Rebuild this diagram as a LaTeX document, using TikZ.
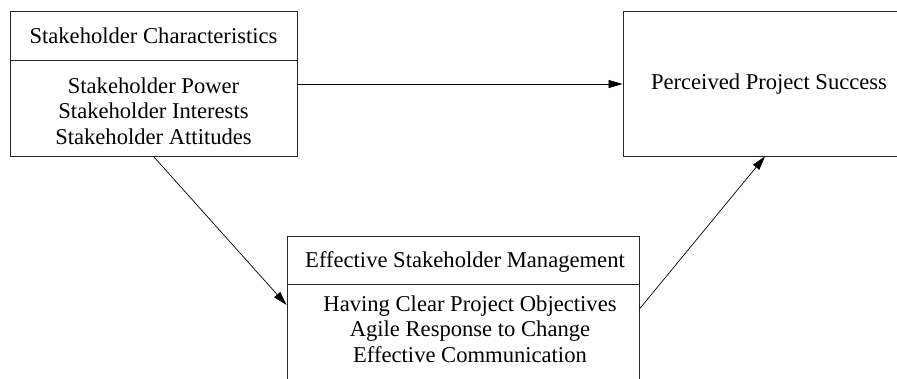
\documentclass[tikz,border=0pt]{standalone}
\usepackage{fontspec}
\setmainfont{Liberation Serif}
\usetikzlibrary{arrows.meta}
\begin{document}
\begin{tikzpicture}[x=1pt,y=-1pt,
  part/.style={draw=black!85,line width=0.9pt,inner sep=0pt},
  lbl/.style={inner sep=0pt,align=center,font=\fontsize{22.6}{25.6}\selectfont},
  arr/.style={line width=0.7pt,-{Triangle[length=14pt,width=8pt]}}]
\useasboundingbox (0,0) rectangle (897,378);
% boxes
\node[part,minimum width=287pt,minimum height=49pt] (ltop) at (153.5,35.5) {};
\node[part,minimum width=287pt,minimum height=96pt] (lbot) at (153.5,108) {};
\node[part,minimum width=292pt,minimum height=145pt] (succ) at (769,83.5) {};
\node[part,minimum width=352pt,minimum height=48pt] (mtop) at (463,260) {};
\node[part,minimum width=352pt,minimum height=108pt] (mbot) at (463,338) {};
% texts
\node[lbl] (ltoptxt) at (153.5,36) {Stakeholder Characteristics};
\node[lbl] (lbottxt) at (153.5,111) {Stakeholder Power\\Stakeholder Interests\\Stakeholder Attitudes};
\node[lbl] (succtxt) at (769,84) {Perceived Project Success};
\node[lbl] (mtoptxt) at (465,262) {Effective Stakeholder Management};
\node[lbl] (mbottxt) at (470,329) {Having Clear Project Objectives\\Agile Response to Change\\Effective Communication};
% connectors
\draw[arr] ([yshift=24pt]lbot.east) -- ([yshift=24pt]lbot.east -| succ.west);
\draw[arr] (lbot.south) -- ([yshift=33pt]mbot.west);
\draw[arr] ([yshift=29pt]mbot.east) -- ([xshift=-4pt]succ.south);
\end{tikzpicture}
\end{document}
